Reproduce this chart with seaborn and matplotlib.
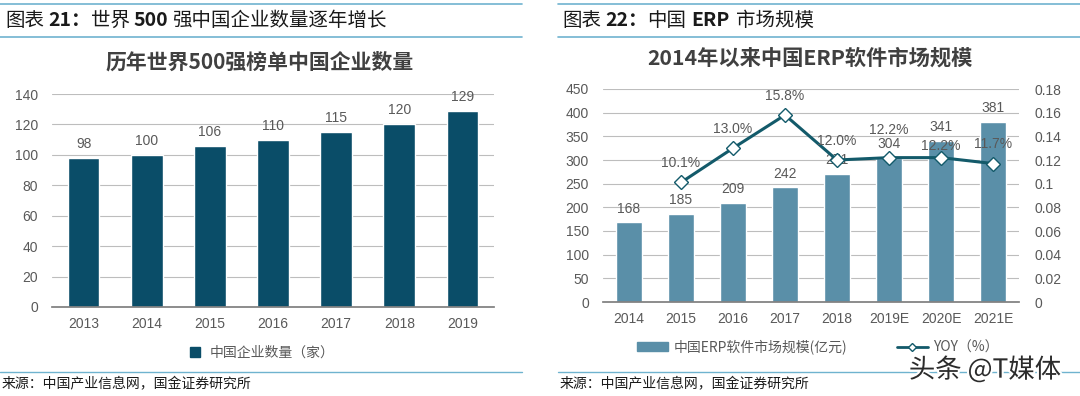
import numpy as np
import matplotlib
matplotlib.use("Agg")
import matplotlib.pyplot as plt
import matplotlib.patheffects as pe
import seaborn as sns
from matplotlib.lines import Line2D
from matplotlib.patches import Patch

# 左图：历年世界500强中国企业数量
years_left = ["2013", "2014", "2015", "2016", "2017", "2018", "2019"]
counts_left = [98, 100, 106, 110, 115, 120, 129]

# 右图：中国ERP软件市场规模
years_right = ["2014", "2015", "2016", "2017", "2018", "2019E", "2020E", "2021E"]
erp_size = [168, 185, 209, 242, 271, 304, 341, 381]
yoy_years = ["2015", "2016", "2017", "2018", "2019E", "2020E", "2021E"]
yoy = [0.101, 0.130, 0.158, 0.120, 0.122, 0.122, 0.117]

# 个别 YOY 标签的手动上下偏移（像素），与原图一致
yoy_label_shift = {"2019E": 8, "2020E": -8}

DARK = "#0a4d68"
STEEL = "#5a8fa8"
LINE = "#135a6a"
GRID = "#bdbdbd"
TXT = "#595959"
HEAD_LINE = "#6fb3cf"
CJK = ["Noto Sans CJK SC", "DejaVu Sans"]

sns.set_theme(style="white")
plt.rcParams["font.family"] = ["Liberation Sans", "Noto Sans CJK SC", "DejaVu Sans"]

W, H = 1080, 396
fig = plt.figure(figsize=(W / 100, H / 100), dpi=100)
renderer = fig.canvas.get_renderer()


def px_axes(x0, y0, x1, y1):
    return fig.add_axes([x0 / W, 1 - y1 / H, (x1 - x0) / W, (y1 - y0) / H])


def style_axis(ax):
    ax.grid(axis="y", color=GRID, linewidth=0.8)
    ax.set_axisbelow(True)
    for s in ["top", "right", "left"]:
        ax.spines[s].set_visible(False)
    ax.spines["bottom"].set_color("#7f7f7f")
    ax.tick_params(axis="x", length=0, colors=TXT, labelsize=10, pad=7)
    ax.tick_params(axis="y", length=0, colors=TXT, labelsize=10, pad=10)
    ax.set_xlabel("")
    ax.set_ylabel("")


def header(x, parts):
    # 依次排列各段文字（数字加粗）
    for s, w, gap in parts:
        t = fig.text(x / W, 1 - 20 / H, s, fontsize=14, va="center", weight=w,
                     color="#1a1a1a", family=CJK)
        x = t.get_window_extent(renderer).x1 + gap


# ---------- 表头 / 页脚 ----------
for x0, x1 in [(0, 522), (558, 1080)]:
    for yy in [4, 37]:
        fig.add_artist(Line2D([x0 / W, x1 / W], [1 - yy / H] * 2, color=HEAD_LINE, lw=1.2))
    fig.add_artist(Line2D([x0 / W, x1 / W], [1 - 372 / H] * 2, color=HEAD_LINE, lw=1.0))

header(5, [("图表", "normal", 4), ("21：", "bold", 0), ("世界", "normal", 4),
           ("500", "bold", 4), ("强中国企业数量逐年增长", "normal", 0)])
header(562, [("图表", "normal", 4), ("22：", "bold", 0), ("中国", "normal", 5),
             ("ERP", "bold", 6), ("市场规模", "normal", 0)])

for x in [2, 560]:
    fig.text(x / W, 1 - 384 / H, "来源：中国产业信息网，国金证券研究所", fontsize=10,
             va="center", color="#1a1a1a", family=CJK)

fig.text(260 / W, 1 - 62 / H, "历年世界500强榜单中国企业数量", fontsize=15, weight="bold",
         ha="center", va="center", color="#404040", family=CJK)
fig.text(810 / W, 1 - 58 / H, "2014年以来中国ERP软件市场规模", fontsize=15.3, weight="bold",
         ha="center", va="center", color="#404040", family=CJK)

# ---------- 左图 ----------
ax1 = px_axes(52, 94, 494, 307)
sns.barplot(x=years_left, y=counts_left, color=DARK, saturation=1, width=0.5, ax=ax1)
ax1.set_ylim(0, 140)
ax1.set_yticks(range(0, 141, 20))
ax1.set_xlim(-0.5, len(years_left) - 0.5)
style_axis(ax1)
for c in ax1.containers:
    ax1.bar_label(c, padding=5, fontsize=10, color=TXT)

ax1.legend(handles=[Line2D([], [], marker="s", ls="", color=DARK, markersize=7)],
           labels=["中国企业数量（家）"], loc="center", bbox_to_anchor=(258 / W, 1 - 353 / H),
           bbox_transform=fig.transFigure, frameon=False, handletextpad=0.1,
           labelcolor=TXT, prop={"family": CJK, "size": 10})

# ---------- 右图 ----------
ax2 = px_axes(603, 89, 1019, 302)
sns.barplot(x=years_right, y=erp_size, color=STEEL, saturation=1, width=0.5, ax=ax2)
ax2.set_ylim(0, 450)
ax2.set_yticks(range(0, 451, 50))
ax2.set_xlim(-0.5, len(years_right) - 0.5)
style_axis(ax2)
for c in ax2.containers:
    ax2.bar_label(c, padding=5, fontsize=10, color=TXT)

ax3 = ax2.twinx()
pos = [years_right.index(y) for y in yoy_years]
sns.lineplot(x=pos, y=yoy, ax=ax3, color=LINE, lw=2.2, marker="D", markersize=7,
             markerfacecolor="white", markeredgecolor=LINE, markeredgewidth=1.0)
ax3.set_ylim(0, 0.18)
ax3.set_yticks(np.arange(0, 0.181, 0.02))
ax3.set_yticklabels(["0"] + ["%g" % v for v in np.round(np.arange(0.02, 0.181, 0.02), 2)])
for s in ax3.spines.values():
    s.set_visible(False)
ax3.tick_params(axis="y", length=0, colors=TXT, labelsize=10, pad=11)
ax3.set_ylabel("")
ax3.grid(False)
for yr, x, v in zip(yoy_years, pos, yoy):
    dy = 9 + yoy_label_shift.get(yr, 0) * 0.72
    ax3.annotate(f"{v * 100:.1f}%", (x, v), xytext=(0, dy), textcoords="offset points",
                 ha="center", va="bottom", fontsize=10, color=TXT)

ax3.legend(handles=[Patch(color=STEEL),
                    Line2D([], [], color=LINE, lw=2, marker="D", markersize=4,
                           markerfacecolor="white", markeredgecolor=LINE)],
           labels=["中国ERP软件市场规模(亿元)", "YOY（%）"], loc="center",
           bbox_to_anchor=(818 / W, 1 - 347 / H), bbox_transform=fig.transFigure,
           frameon=False, ncol=2, columnspacing=3.6, handlelength=2.2,
           handletextpad=0.4, labelcolor=TXT, prop={"family": CJK, "size": 10})

# 水印
fig.text(985 / W, 1 - 370 / H, "头条 @T媒体", fontsize=19, ha="center", va="center",
         color="#2b2b2b", family=CJK,
         path_effects=[pe.withStroke(linewidth=3, foreground="white")])

fig.savefig("out.png", dpi=100)
